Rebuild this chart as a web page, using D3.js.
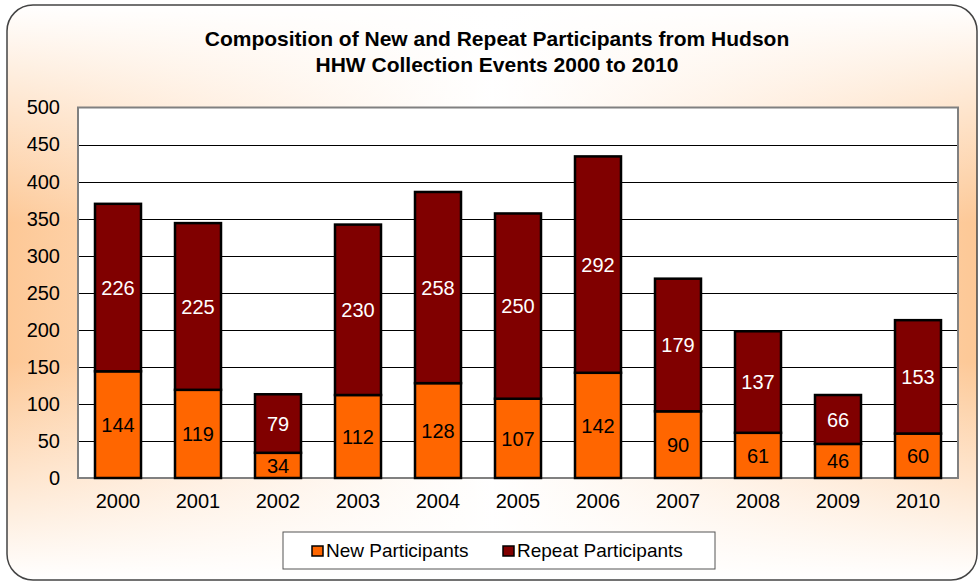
<!DOCTYPE html>
<html>
<head>
<meta charset="utf-8">
<script src="https://cdn.jsdelivr.net/npm/d3@7"></script>
<style>
  body { margin: 0; background: #fff; }
  svg { display: block; font-family: "Liberation Sans", Arial, sans-serif; }
</style>
</head>
<body>
<div id="chart"></div>
<script>
var years = ["2000", "2001", "2002", "2003", "2004", "2005", "2006", "2007", "2008", "2009", "2010"]
var newParticipants = [144, 119, 34, 112, 128, 107, 142, 90, 61, 46, 60]
var repeatParticipants = [226, 225, 79, 230, 258, 250, 292, 179, 137, 66, 153]
var yTicks = [0, 50, 100, 150, 200, 250, 300, 350, 400, 450, 500]
var seriesNames = ["New Participants", "Repeat Participants"]
var seriesColors = ["#FF6600", "#800000"]
var titleLines = ["Composition of New and Repeat Participants from Hudson", "HHW Collection Events 2000 to 2010"]

var W = 978, H = 584
var plot = { left: 78, top: 107.5, right: 958, bottom: 478 }

var svg = d3.select("#chart").append("svg")
  .attr("width", W)
  .attr("height", H)

var defs = svg.append("defs")
var hGrad = defs.append("linearGradient").attr("id", "hgrad")
  .attr("x1", "0").attr("x2", "1").attr("y1", "0").attr("y2", "0")
hGrad.append("stop").attr("offset", "0").attr("stop-color", "#FDC896")
hGrad.append("stop").attr("offset", "0.5").attr("stop-color", "#FFFFFF")
hGrad.append("stop").attr("offset", "1").attr("stop-color", "#FDC896")
var vGrad = defs.append("linearGradient").attr("id", "vgrad")
  .attr("x1", "0").attr("x2", "0").attr("y1", "0").attr("y2", "1")
vGrad.append("stop").attr("offset", "0").attr("stop-color", "#fff").attr("stop-opacity", 1)
vGrad.append("stop").attr("offset", "0.38").attr("stop-color", "#fff").attr("stop-opacity", 0)
vGrad.append("stop").attr("offset", "0.62").attr("stop-color", "#fff").attr("stop-opacity", 0)
vGrad.append("stop").attr("offset", "1").attr("stop-color", "#fff").attr("stop-opacity", 1)

// panel
svg.append("rect")
  .attr("x", 7).attr("y", 5).attr("width", 970).attr("height", 575)
  .attr("rx", 26).attr("ry", 26)
  .attr("fill", "url(#hgrad)")
svg.append("rect")
  .attr("x", 7).attr("y", 5).attr("width", 970).attr("height", 575)
  .attr("rx", 26).attr("ry", 26)
  .attr("fill", "url(#vgrad)")
  .attr("stroke", "#444")
  .attr("stroke-width", 1.5)

// title
svg.append("text")
  .attr("text-anchor", "middle")
  .style("font-weight", "bold")
  .style("font-size", "21px")
  .selectAll("tspan").data(titleLines).enter().append("tspan")
  .attr("x", 497)
  .attr("y", function(d, i) { return 46 + i * 26 })
  .text(function(d) { return d })

var xScale = d3.scaleBand()
  .domain(years)
  .range([plot.left, plot.right])
  .paddingInner(0.425)
  .paddingOuter(0.2125)

var yScale = d3.scaleLinear()
  .domain([0, 500])
  .range([plot.bottom, plot.top])

// plot area
svg.append("rect")
  .attr("x", plot.left).attr("y", plot.top)
  .attr("width", plot.right - plot.left).attr("height", plot.bottom - plot.top)
  .attr("fill", "#fff")

// gridlines
svg.append("g")
  .selectAll("line").data(yTicks.slice(1, -1)).enter().append("line")
  .attr("x1", plot.left).attr("x2", plot.right)
  .attr("y1", function(d) { return Math.round(yScale(d)) + 0.5 })
  .attr("y2", function(d) { return Math.round(yScale(d)) + 0.5 })
  .attr("stroke", "#000")
  .attr("stroke-width", 1)

svg.append("rect")
  .attr("x", plot.left).attr("y", plot.top)
  .attr("width", plot.right - plot.left).attr("height", plot.bottom - plot.top)
  .attr("fill", "none")
  .attr("stroke", "#808080")
  .attr("stroke-width", 2)

// y axis
var yAxis = svg.append("g")
  .attr("transform", "translate(" + plot.left + ",0)")
  .call(d3.axisLeft(yScale).tickValues(yTicks).tickSize(0).tickPadding(18))
yAxis.select(".domain").remove()
yAxis.selectAll("text")
  .style("font-size", "20px")
  .style("font-family", "Liberation Sans, Arial, sans-serif")
  .attr("fill", "#000")

// x axis
var xAxis = svg.append("g")
  .attr("transform", "translate(0," + plot.bottom + ")")
  .call(d3.axisBottom(xScale).tickSize(0).tickPadding(16))
xAxis.select(".domain").remove()
xAxis.selectAll("text")
  .style("font-size", "20px")
  .style("font-family", "Liberation Sans, Arial, sans-serif")
  .attr("fill", "#000")

// stacked bars
var rows = years.map(function(y, i) {
  return { year: y, new: newParticipants[i], repeat: repeatParticipants[i] }
})
var stack = d3.stack().keys(["new", "repeat"])(rows)

var layers = svg.append("g").selectAll("g")
  .data(stack).enter().append("g")
  .attr("fill", function(d, i) { return seriesColors[i] })

layers.selectAll("rect")
  .data(function(d) { return d }).enter().append("rect")
  .attr("x", function(d) { return xScale(d.data.year) })
  .attr("width", xScale.bandwidth())
  .attr("y", function(d) { return yScale(d[1]) })
  .attr("height", function(d) { return yScale(d[0]) - yScale(d[1]) })
  .attr("stroke", "#000")
  .attr("stroke-width", 2.5)

// data labels
layers.each(function(layer, li) {
  d3.select(this).selectAll("text")
    .data(layer).enter().append("text")
    .attr("x", function(d) { return xScale(d.data.year) + xScale.bandwidth() / 2 })
    .attr("y", function(d) { return (yScale(d[0]) + yScale(d[1])) / 2 })
    .attr("dy", "0.36em")
    .attr("text-anchor", "middle")
    .attr("fill", li === 0 ? "#000" : "#fff")
    .style("font-size", "20px")
    .text(function(d) { return d[1] - d[0] })
})

// legend
svg.append("rect")
  .attr("x", 283).attr("y", 532).attr("width", 432).attr("height", 37)
  .attr("fill", "#fff").attr("stroke", "#555").attr("stroke-width", 1)
var legend = svg.append("g")
var legendX = [312, 503]
seriesNames.forEach(function(name, i) {
  legend.append("rect")
    .attr("x", legendX[i]).attr("y", 546)
    .attr("width", 11).attr("height", 10)
    .attr("fill", seriesColors[i])
    .attr("stroke", "#000").attr("stroke-width", 1.5)
  legend.append("text")
    .attr("x", legendX[i] + 14).attr("y", 557)
    .style("font-size", "19px")
    .text(name)
})
</script>
</body>
</html>
